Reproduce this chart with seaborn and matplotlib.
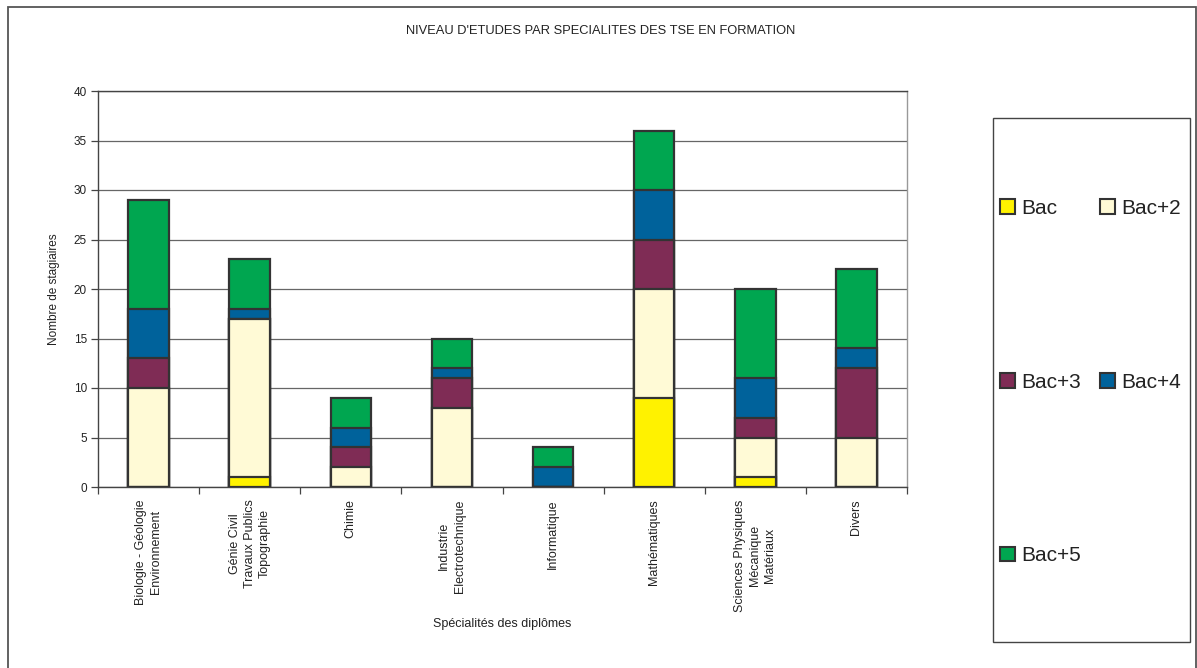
import matplotlib
matplotlib.use("Agg")
import matplotlib.pyplot as plt
from matplotlib.patches import Patch, Rectangle
import seaborn as sns
import numpy as np

categories = [
    "Biologie - Géologie\nEnvironnement",
    "Génie Civil\nTravaux Publics\nTopographie",
    "Chimie",
    "Industrie\nElectrotechnique",
    "Informatique",
    "Mathématiques",
    "Sciences Physiques\nMécanique\nMatériaux",
    "Divers",
]
levels = ["Bac", "Bac+2", "Bac+3", "Bac+4", "Bac+5"]
bac   = [0, 1, 0, 0, 0, 9, 1, 0]
bac2  = [10, 16, 2, 8, 0, 11, 4, 5]
bac3  = [3, 0, 2, 3, 0, 5, 2, 7]
bac4  = [5, 1, 2, 1, 2, 5, 4, 2]
bac5  = [11, 5, 3, 3, 2, 6, 9, 8]
colors = ["#FFF200", "#FFFAD6", "#7F2C55", "#00629B", "#00A650"]

title = "NIVEAU D'ETUDES PAR SPECIALITES DES TSE EN FORMATION"
ylabel = "Nombre de stagiaires"
xlabel = "Spécialités des diplômes"

sns.set_theme(style="white")
plt.rcParams["font.family"] = ["Liberation Sans", "DejaVu Sans"]
txt = "#222222"

W, H = 1197, 668
fig = plt.figure(figsize=(W / 100, H / 100), dpi=100)
ax = fig.add_axes([98 / W, (H - 487) / H, (907 - 98) / W, (487 - 91) / H])

series = [bac, bac2, bac3, bac4, bac5]
cum = np.cumsum(np.array(series, dtype=float), axis=0)
for i in range(len(levels) - 1, -1, -1):
    sns.barplot(x=categories, y=cum[i], color=colors[i], saturation=1,
                width=0.4, edgecolor="#333333", linewidth=1.6, ax=ax,
                zorder=3)

ax.set_ylim(0, 40)
ax.set_xlim(-0.5, len(categories) - 0.5)
ax.set_yticks(np.arange(0, 41, 5))
ax.yaxis.grid(True, color="#666666", linewidth=0.9)
ax.set_axisbelow(True)
for s in ["left", "bottom", "top"]:
    ax.spines[s].set_color("#444444")
    ax.spines[s].set_linewidth(1.0)
ax.spines["right"].set_color("#999999")
ax.spines["right"].set_linewidth(1.0)

ax.tick_params(axis="y", which="major", direction="out", length=5, width=0.9,
               color="#444444", labelsize=8.5, labelcolor=txt, pad=3, left=True)
ax.set_xticks(np.arange(len(categories)))
ax.set_xticks(np.arange(-0.5, len(categories), 1.0), minor=True)
ax.tick_params(axis="x", which="major", length=0, pad=9, labelsize=9,
               labelcolor=txt)
ax.tick_params(axis="x", which="minor", direction="out", length=5, width=0.9,
               color="#444444", bottom=True)
ax.set_xticklabels(categories, rotation=90, ha="center", va="top",
                   multialignment="center", linespacing=1.35)
ax.set_ylabel(ylabel, fontsize=8.5, color=txt, labelpad=10)
ax.set_xlabel("")

fig.text(502.5 / W, 1 - 624 / H, xlabel, ha="center", va="center",
         fontsize=9, color=txt)
fig.text(601 / W, 1 - 31 / H, title, ha="center", va="center",
         fontsize=9.3, color=txt)

# outer frame
fig.patches.append(Rectangle((8 / W, -0.01), (1196 - 8) / W, 1.01 - 7 / H,
                             transform=fig.transFigure, fill=False,
                             edgecolor="#555555", linewidth=1.3))
# legend box
fig.patches.append(Rectangle((993 / W, 1 - 642 / H), (1190 - 993) / W,
                             (642 - 118) / H, transform=fig.transFigure,
                             fill=False, edgecolor="#444444", linewidth=1.0))

handles = [Patch(facecolor=c, edgecolor="#333333", linewidth=1.5)
           for c in colors]
order = [0, 2, 4, 1, 3]
fig.legend([handles[k] for k in order], [levels[k] for k in order],
           loc="upper left", bbox_to_anchor=(1000 / W, 1 - 199 / H),
           ncol=2, frameon=False, fontsize=15, handlelength=0.7,
           handleheight=0.7, handletextpad=0.3, columnspacing=0.95,
           labelspacing=7.42, borderpad=0, borderaxespad=0,
           labelcolor=txt)

fig.savefig("out.png", dpi=100)
